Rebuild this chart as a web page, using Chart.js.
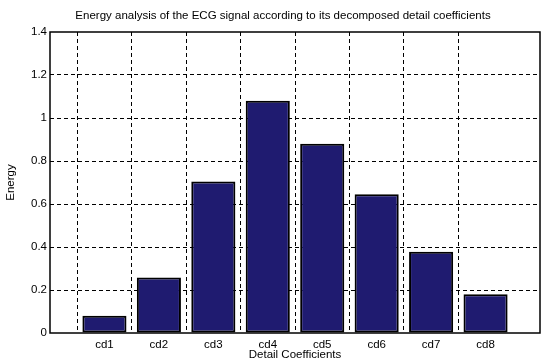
<!DOCTYPE html>
<html>
<head>
<meta charset="utf-8">
<script src="https://cdn.jsdelivr.net/npm/chart.js@4"></script>
<style>
html,body{margin:0;padding:0;background:#fff;}
#wrap{width:547px;height:364px;position:relative;}
</style>
</head>
<body>
<div id="wrap"><canvas id="c" width="547" height="364"></canvas></div>
<script>
const titleText = "Energy analysis of the ECG signal according to its decomposed detail coefficients";
const categories = ["cd1","cd2","cd3","cd4","cd5","cd6","cd7","cd8"];
const energy = [0.08, 0.258, 0.705, 1.08, 0.88, 0.645, 0.378, 0.18];
const xTitle = "Detail Coefficients";
const yTitle = "Energy";
const yMin = 0, yMax = 1.4, yStep = 0.2;

const labels = [""].concat(categories, [""]);
const values = [null].concat(energy, [null]);
const FONT = "'Liberation Sans', Arial, Helvetica, sans-serif";

const boxPlugin = {
  id: 'boxAndTitle',
  afterDraw(chart) {
    const {ctx, chartArea: a} = chart;
    ctx.save();
    ctx.strokeStyle = '#000';
    ctx.lineWidth = 1.5;
    ctx.strokeRect(a.left, a.top, a.right - a.left, a.bottom - a.top);
    ctx.fillStyle = '#000';
    ctx.font = "11.5px " + FONT;
    ctx.textAlign = 'center';
    ctx.textBaseline = 'middle';
    ctx.fillText(titleText, 283, 16);
    ctx.restore();
  }
};

new Chart(document.getElementById('c'), {
  type: 'bar',
  data: {
    labels: labels,
    datasets: [{
      data: values,
      backgroundColor: '#1f1b70',
      borderColor: '#000',
      borderWidth: 2,
      borderSkipped: false,
      categoryPercentage: 1,
      barPercentage: 0.81
    }]
  },
  options: {
    responsive: false,
    animation: false,
    devicePixelRatio: 1,
    layout: {padding: {top: 32, right: 7, left: 0, bottom: 0}},
    plugins: {legend: {display: false}, tooltip: {enabled: false}, title: {display: false}},
    scales: {
      x: {
        type: 'category',
        offset: false,
        afterFit(s) { s.height = 31; },
        grid: {
          drawTicks: false,
          color: (c) => (c.index === 0 || c.index === labels.length - 1) ? 'rgba(0,0,0,0)' : '#000',
          lineWidth: 1
        },
        border: {display: false, dash: [4, 3]},
        ticks: {color: '#000', font: {family: FONT, size: 11.5}, padding: 5, autoSkip: false, maxRotation: 0},
        title: {display: true, text: xTitle, color: '#000', font: {family: FONT, size: 11.5}, padding: {top: 0, bottom: 2}}
      },
      y: {
        min: yMin, max: yMax,
        afterFit(s) { s.width = 50; },
        grid: {
          drawTicks: false,
          color: (c) => (c.index === 0 || c.tick.value >= yMax - 1e-9) ? 'rgba(0,0,0,0)' : '#000',
          lineWidth: 1
        },
        border: {display: false, dash: [4, 3]},
        ticks: {
          stepSize: yStep, color: '#000', font: {family: FONT, size: 11.5}, padding: 3,
          callback: (v) => String(Number(Number(v).toFixed(1)))
        },
        title: {display: true, text: yTitle, color: '#000', font: {family: FONT, size: 11.5}, padding: {top: 4, bottom: 0}}
      }
    }
  },
  plugins: [boxPlugin]
});
</script>
</body>
</html>
